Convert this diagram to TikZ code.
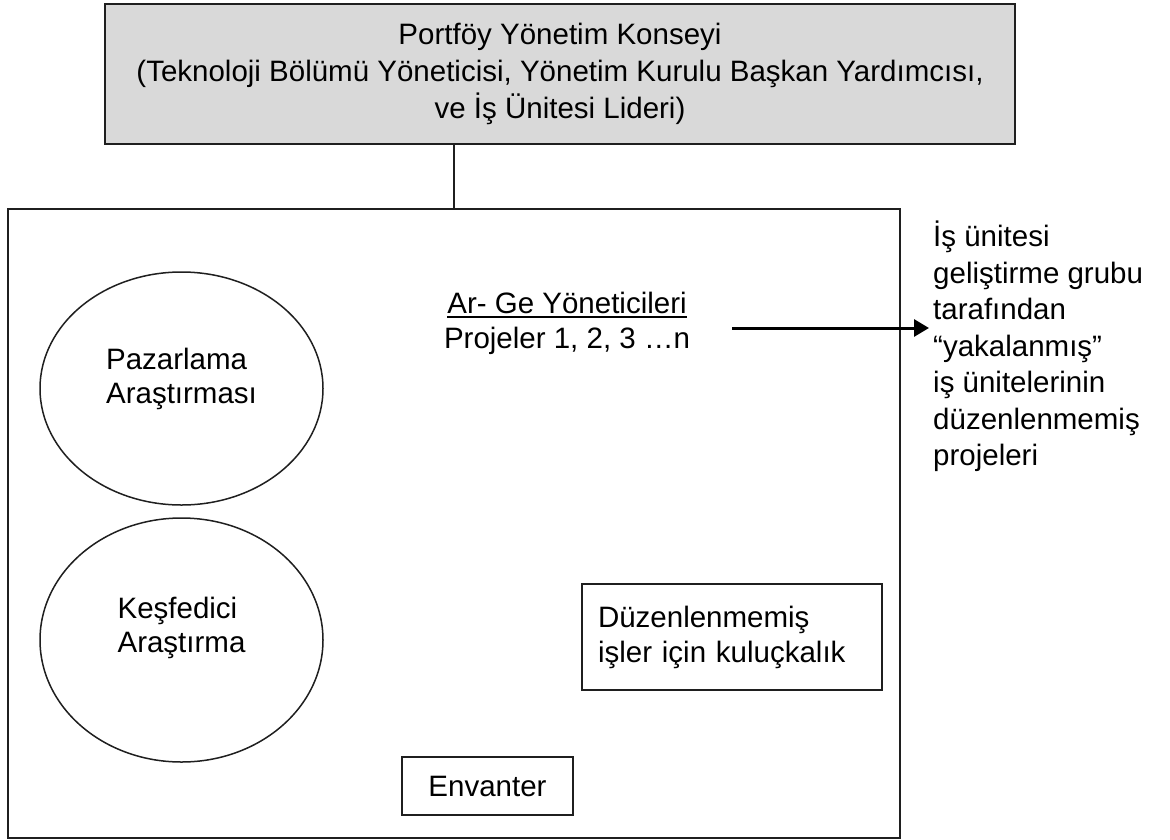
\documentclass[tikz,border=0pt]{standalone}
\usepackage{fontspec}
\setmainfont{Liberation Sans}
\usetikzlibrary{arrows.meta,shapes.geometric}
% a heavier underline than the default one
\newsavebox{\ulinebox}
\newcommand{\heavyuline}[1]{\sbox{\ulinebox}{#1}\rlap{\rule[-5.2pt]{\wd\ulinebox}{2.2pt}}\usebox{\ulinebox}}
\begin{document}
\begin{tikzpicture}[x=1pt,y=-1pt,
  txt/.style={font=\fontsize{29.5}{#1}\selectfont},
  txt/.default=35,
  outline/.style={draw=black!88, line width=1.5pt},
  card/.style={outline, rectangle, inner sep=0pt},
  blob/.style={outline, ellipse, inner sep=0pt},
  link/.style={draw=black!88, line width=1.5pt},
  flow/.style={draw=black, line width=3pt, -{Triangle[length=15pt,width=17pt]}}]
\useasboundingbox (0,0) rectangle (1170,839);

% portfolio council on top
\node[card, txt=37, fill=black!15, minimum width=910pt, minimum height=140pt, align=center]
  (council) at (560,74)
  {Portföy Yönetim Konseyi\\(Teknoloji Bölümü Yöneticisi, Yönetim Kurulu Başkan Yardımcısı,\\ve İş Ünitesi Lideri)};

% the large frame holding the research units
\node[card, minimum width=892pt, minimum height=629pt] (unit) at (454,523.5) {};
\draw[link] (council.south -| unit.north) -- (unit.north);

% research groups
\node[blob, minimum width=283pt, minimum height=233pt] (market) at (181.5,388.5) {};
\node[txt=34, align=left, inner sep=0pt] (marketname) at ([yshift=10pt]market.center)
  {Pazarlama\\Araştırması};
\node[blob, minimum width=283pt, minimum height=244pt] (explore) at (181.5,640) {};
\node[txt=34, align=left, inner sep=0pt] (explorename) at ([yshift=12pt]explore.center)
  {Keşfedici\\Araştırma};

% R&D managers and their projects
\node[txt, align=center, inner sep=0pt] (rnd) at (567,323)
  {\heavyuline{Ar- Ge Yöneticileri}\\Projeler 1, 2, 3 …n};

% incubator and inventory
\node[card, txt, text width=268pt, inner xsep=16pt, minimum height=106pt, align=left]
  (incub) at (732,637) {Düzenlenmemiş\\işler için kuluçkalık};
\node[card, txt, minimum width=171pt, minimum height=58pt] (stock) at (487.5,786) {Envanter};

% projects picked up by the business unit
\node[txt=36.5, align=left, anchor=north west, inner sep=0pt] (captured) at (933,221)
  {İş ünitesi\\geliştirme grubu\\tarafından\\“yakalanmış”\\iş ünitelerinin\\düzenlenmemiş\\projeleri};

\coordinate (tail) at (732,328);
\draw[flow] (tail) -- ([xshift=-4pt]captured.west |- tail);
\end{tikzpicture}
\end{document}
